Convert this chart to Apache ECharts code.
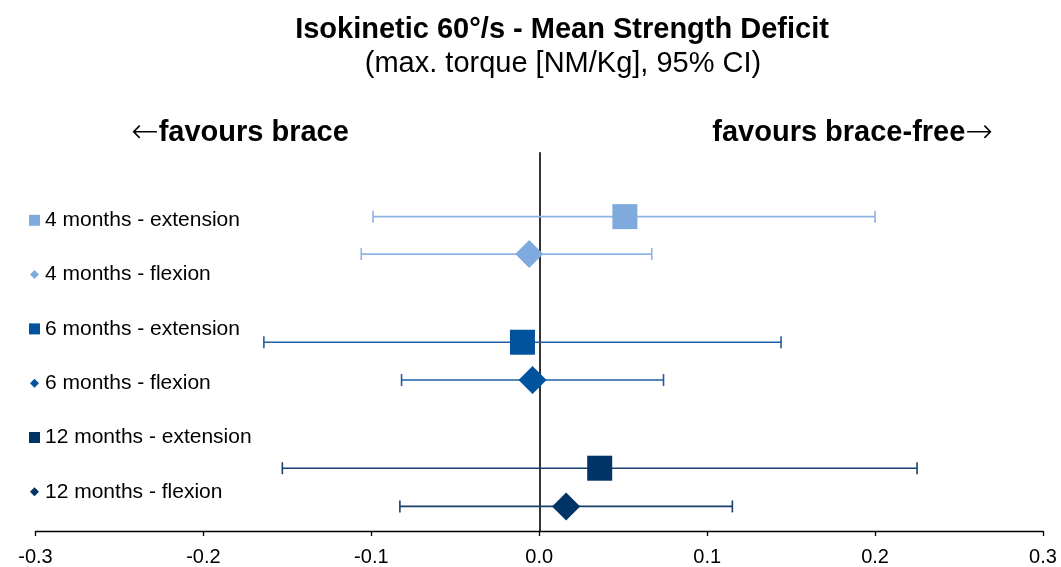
<!DOCTYPE html>
<html>
<head>
<meta charset="utf-8">
<script src="https://cdn.jsdelivr.net/npm/echarts@6/dist/echarts.min.js"></script>
<style>html,body{margin:0;padding:0;background:#fff;}#c{width:1061px;height:567px;}</style>
</head>
<body>
<div id="c"></div>
<script>
const categories = ['4 months - extension', '4 months - flexion', '6 months - extension', '6 months - flexion', '12 months - extension', '12 months - flexion'];
const means = [0.051, -0.006, -0.010, -0.004, 0.036, 0.016];
const lower = [-0.099, -0.106, -0.164, -0.082, -0.153, -0.083];
const upper = [0.200, 0.067, 0.144, 0.074, 0.225, 0.115];
const rowPos = [8.31, 7.32, 4.99, 3.99, 1.66, 0.65];
const kinds = ['extension', 'flexion', 'extension', 'flexion', 'extension', 'flexion'];
const xTicks = [-0.3, -0.2, -0.1, 0.0, 0.1, 0.2, 0.3];

const colors = ['#7FAADD', '#7FAADD', '#00539C', '#00539C', '#003466', '#003466'];
const barColors = ['#8DB4E2', '#8DB4E2', '#1F5FA3', '#1F5FA3', '#1A3F6C', '#1A3F6C'];
const FONT = "'Liberation Sans', Arial, sans-serif";

const chart = echarts.init(document.getElementById('c'), null, {renderer: 'canvas'});

const scatterSeries = categories.map((name, i) => ({
  name: name,
  type: 'scatter',
  symbol: kinds[i] === 'extension' ? 'rect' : 'diamond',
  symbolSize: kinds[i] === 'extension' ? 25 : 28,
  itemStyle: {color: colors[i], opacity: 1},
  z: 5,
  data: [[means[i], rowPos[i]]]
}));

const ciSeries = {
  type: 'custom',
  name: 'ci',
  z: 3,
  silent: true,
  data: categories.map((n, i) => [lower[i], upper[i], rowPos[i], i]),
  encode: {x: [0, 1], y: 2},
  renderItem: function (params, api) {
    const i = api.value(3);
    const a = api.coord([api.value(0), api.value(2)]);
    const b = api.coord([api.value(1), api.value(2)]);
    const c = barColors[i];
    const st = {stroke: c, lineWidth: 1.6};
    return {
      type: 'group',
      children: [
        {type: 'line', shape: {x1: a[0], y1: a[1], x2: b[0], y2: b[1]}, style: st},
        {type: 'line', shape: {x1: a[0], y1: a[1] - 6, x2: a[0], y2: a[1] + 6}, style: st},
        {type: 'line', shape: {x1: b[0], y1: b[1] - 6, x2: b[0], y2: b[1] + 6}, style: st}
      ]
    };
  }
};

const diamondIcon = 'path://M0,0 M11,11 M5.5,1 L10,5.5 L5.5,10 L1,5.5 Z';
const arrowStyle = {fontFamily: "'DejaVu Sans', sans-serif", fontWeight: 200, fontSize: 33, fill: '#000'};
const boldStyle = {fontFamily: FONT, fontWeight: 'bold', fontSize: 29, fill: '#000'};

const option = {
  backgroundColor: '#ffffff',
  animation: false,
  textStyle: {fontFamily: FONT},
  grid: {left: 35.5, right: 18, top: 152.7, bottom: 36, containLabel: false},
  xAxis: {
    type: 'value',
    min: -0.3, max: 0.3, interval: 0.1,
    axisLine: {show: true, onZero: true, lineStyle: {color: '#000', width: 1.3}},
    axisTick: {show: true, inside: false, length: 5, lineStyle: {color: '#000', width: 1.3}},
    splitLine: {show: false},
    axisLabel: {
      fontSize: 20, color: '#000', fontFamily: FONT, margin: 16,
      formatter: function (v) { const t = xTicks.find(x => Math.abs(x - v) < 1e-9); return (t !== undefined ? t : v).toFixed(1); }
    }
  },
  yAxis: {
    type: 'value', min: 0, max: 10,
    axisLine: {show: true, onZero: true, lineStyle: {color: '#000', width: 1.6}},
    axisTick: {show: false},
    axisLabel: {show: false},
    splitLine: {show: false}
  },
  legend: {
    orient: 'vertical',
    left: 29, top: 209.8,
    padding: 0,
    itemWidth: 11, itemHeight: 11,
    itemGap: 33.3,
    selectedMode: false,
    textStyle: {fontSize: 21, lineHeight: 21, color: '#000', fontFamily: FONT},
    data: categories.map((n, i) => ({name: n, icon: kinds[i] === 'extension' ? 'rect' : diamondIcon}))
  },
  graphic: [
    {type: 'text', x: 562, y: 30, style: {text: 'Isokinetic 60°/s - Mean Strength Deficit', font: 'bold 29px ' + FONT, fill: '#000', align: 'center', verticalAlign: 'middle'}},
    {type: 'text', x: 563, y: 64, style: {text: '(max. torque [NM/Kg], 95% CI)', font: '29px ' + FONT, fill: '#000', align: 'center', verticalAlign: 'middle'}},
    {type: 'text', x: 131, y: 133, style: {text: '{a|←}{b|favours brace}', rich: {a: arrowStyle, b: boldStyle}, align: 'left', verticalAlign: 'middle'}},
    {type: 'text', x: 993, y: 133, style: {text: '{b|favours brace-free}{a|→}', rich: {a: arrowStyle, b: boldStyle}, align: 'right', verticalAlign: 'middle'}}
  ],
  series: [ciSeries].concat(scatterSeries)
};
chart.setOption(option);
</script>
</body>
</html>
